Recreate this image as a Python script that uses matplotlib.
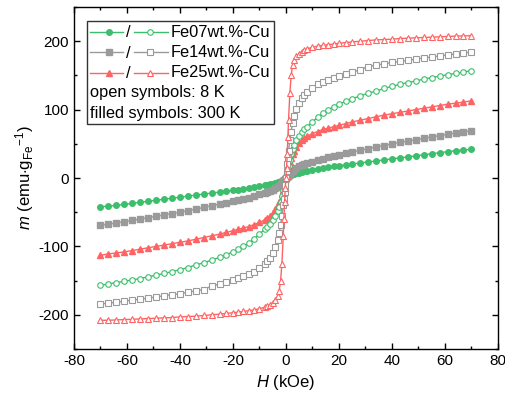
import matplotlib
matplotlib.use("Agg")
import matplotlib.pyplot as plt
from matplotlib.lines import Line2D
from matplotlib.text import Text
from matplotlib.offsetbox import (AnchoredOffsetbox, VPacker, HPacker,
                                  DrawingArea, TextArea)
from matplotlib.ticker import MultipleLocator

plt.rcParams['font.family'] = ['Liberation Sans', 'DejaVu Sans']
plt.rcParams['mathtext.fontset'] = 'custom'
plt.rcParams['mathtext.rm'] = 'Liberation Sans'
plt.rcParams['mathtext.it'] = 'Liberation Sans:italic'
plt.rcParams['axes.unicode_minus'] = False

# ---- data ----
H = [-70, -67, -64, -61, -58, -55, -52, -49, -46, -43, -40, -37, -34, -31, -28, -25,
     -22.5, -20, -18, -16, -14, -12, -10, -8, -7, -6, -5, -4, -3, -2.5, -2, -1.5, -1,
     -0.75, -0.5, -0.25, 0, 0.25, 0.5, 0.75, 1, 1.5, 2, 2.5, 3, 4, 5, 6, 7, 8, 10, 12,
     14, 16, 18, 20, 22.5, 25, 28, 31, 34, 37, 40, 43, 46, 49, 52, 55, 58, 61, 64, 67, 70]

fe07_8K = [-157, -155, -153, -151, -149, -147, -144.5, -142, -139.5, -137, -134, -131,
           -127, -124, -120, -116, -112, -108, -104, -100, -95, -89, -82, -75, -71, -67,
           -62, -56, -48, -42, -35, -27, -18, -13.5, -9, -4.5, 0, 4.5, 9, 13.5, 18, 27,
           35, 42, 48, 56, 62, 67, 71, 75, 82, 89, 95, 100, 104, 108, 112, 116, 120, 124,
           127, 131, 134, 137, 139.5, 142, 144.5, 147, 149, 151, 153, 155, 157]
fe14_8K = [-184, -183, -181.5, -180, -178.5, -177, -175.5, -174, -172, -170.5, -169,
           -167, -165, -163, -158, -155, -152, -149, -146, -143.5, -140, -137, -132,
           -126, -122, -117, -110, -101, -90, -80, -68, -55, -40, -30, -20, -10, 0, 10,
           20, 30, 40, 55, 68, 80, 90, 101, 110, 117, 122, 126, 132, 137, 140, 143.5, 146,
           149, 152, 155, 158, 163, 165, 167, 169, 170.5, 172, 174, 175.5, 177, 178.5,
           180, 181.5, 183, 184]
fe25_8K = [-208, -208, -207.5, -207, -206.5, -206, -205.5, -205, -204.5, -204, -203,
           -202.5, -202, -201, -200, -199, -198, -197, -196, -195, -194, -193, -191,
           -189, -187, -185, -182, -178, -172, -165, -150, -125, -85, -60, -35, -15, 0,
           15, 35, 60, 85, 125, 150, 165, 172, 178, 182, 185, 187, 189, 191, 193, 194,
           195, 196, 197, 198, 199, 200, 201, 202, 202.5, 203, 204, 204.5, 205, 205.5,
           206, 206.5, 207, 207.5, 208, 208]
fe07_300K = [-42, -41, -40, -38.5, -37, -35.5, -34, -32.5, -31, -29.5, -28, -26.5, -25,
             -23.5, -22, -20.5, -19.3, -18, -17, -16, -15, -13.7, -12.3, -10.8, -10, -9,
             -8, -7, -6, -5.3, -4.5, -3.5, -2.4, -1.8, -1.2, -0.6, 0, 0.6, 1.2, 1.8, 2.4,
             3.5, 4.5, 5.3, 6, 7, 8, 9, 10, 10.8, 12.3, 13.7, 15, 16, 17, 18, 19.3, 20.5,
             22, 23.5, 25, 26.5, 28, 29.5, 31, 32.5, 34, 35.5, 37, 38.5, 40, 41, 42]
fe14_300K = [-69, -67.4, -65.7, -64, -62, -60, -58, -56, -54, -52, -50, -47.5, -45.5,
             -43, -40.5, -38, -36, -34, -32.3, -30.5, -28.5, -26.3, -24, -21.7, -20.3,
             -18.8, -17, -15, -12.5, -11, -9, -7, -4.8, -3.6, -2.4, -1.2, 0, 1.2, 2.4, 3.6,
             4.8, 7, 9, 11, 12.5, 15, 17, 18.8, 20.3, 21.7, 24, 26.3, 28.5, 30.5, 32.3, 34,
             36, 38, 40.5, 43, 45.5, 47.5, 50, 52, 54, 56, 58, 60, 62, 64, 65.7, 67.4, 69]
fe25_300K = [-113, -111, -109.5, -108, -106, -104, -102, -100, -98, -96, -94, -92,
             -89.5, -87, -84.5, -82, -79.5, -77, -75, -73, -71, -68, -65, -61, -58, -55,
             -51, -46, -40, -35, -30, -24, -17, -13, -9, -4.5, 0, 4.5, 9, 13, 17, 24, 30,
             35, 40, 46, 51, 55, 58, 61, 65, 68, 71, 73, 75, 77, 79.5, 82, 84.5, 87, 89.5,
             92, 94, 96, 98, 100, 102, 104, 106, 108, 109.5, 111, 113]

names = ['Fe07wt.%-Cu', 'Fe14wt.%-Cu', 'Fe25wt.%-Cu']
colors = ['#3DBE6C', '#9A9A9A', '#FF6464']
markers = ['o', 's', '^']
series_300K = [fe07_300K, fe14_300K, fe25_300K]
series_8K = [fe07_8K, fe14_8K, fe25_8K]

fig = plt.figure(figsize=(5.06, 3.99), dpi=100)
ax = fig.add_axes([0.146, 0.1253, 0.838, 0.857])

ms = 4.0
for c, m, s in zip(colors, markers, series_300K):
    ax.plot(H, s, color=c, marker=m, ms=ms, lw=1.0, mec=c, mfc=c)
for c, m, s in zip(colors, markers, series_8K):
    ax.plot(H, s, color=c, marker=m, ms=ms, lw=1.0, mec=c, mfc='white', mew=0.8)

ax.set_xlim(-80, 80)
ax.set_ylim(-250, 250)
ax.xaxis.set_major_locator(MultipleLocator(20))
ax.xaxis.set_minor_locator(MultipleLocator(10))
ax.yaxis.set_major_locator(MultipleLocator(100))
ax.yaxis.set_minor_locator(MultipleLocator(50))
ax.tick_params(which='both', direction='in', top=True, right=True, labelsize=11,
               width=1.0)
ax.tick_params(which='major', length=4.5)
ax.tick_params(which='minor', length=2.5)
for sp in ax.spines.values():
    sp.set_linewidth(1.0)

ax.set_xlabel(r'$\mathit{H}$ (kOe)', fontsize=12, labelpad=4)
ax.set_ylabel(r'$\mathit{m}$ (emu$\cdot$g$_{\mathrm{Fe}}$$^{-1}$)', fontsize=12,
              labelpad=2)


# ---- legend ----
def handle(color, marker):
    da = DrawingArea(56, 10, 0, 0)
    da.add_artist(Line2D([0, 23.5], [5, 5], color=color, lw=1.0))
    da.add_artist(Line2D([13], [5], color=color, marker=marker, ms=ms,
                         mfc=color, mec=color, lw=0))
    da.add_artist(Text(27.5, 4.5, '/', ha='center', va='center', fontsize=12))
    da.add_artist(Line2D([31.5, 56], [5, 5], color=color, lw=1.0))
    da.add_artist(Line2D([43], [5], color=color, marker=marker, ms=ms,
                         mfc='white', mec=color, mew=0.8, lw=0))
    return da


fs = 11.8
rows = []
for c, m, n in zip(colors, markers, names):
    rows.append(HPacker(children=[handle(c, m),
                                  TextArea(n, textprops=dict(fontsize=fs))],
                        align='center', pad=0, sep=2.0))
rows.append(TextArea('open symbols: 8 K', textprops=dict(fontsize=fs)))
rows.append(TextArea('filled symbols: 300 K', textprops=dict(fontsize=fs)))
box = VPacker(children=rows, align='left', pad=0, sep=3.8)
anch = AnchoredOffsetbox(loc='upper left', child=box, pad=0.25, borderpad=0,
                         frameon=True, bbox_to_anchor=(0.031, 0.959),
                         bbox_transform=ax.transAxes)
anch.patch.set_edgecolor('#333333')
anch.patch.set_linewidth(1.0)
anch.patch.set_boxstyle('square', pad=0)
ax.add_artist(anch)

fig.savefig('out.png', dpi=100)
